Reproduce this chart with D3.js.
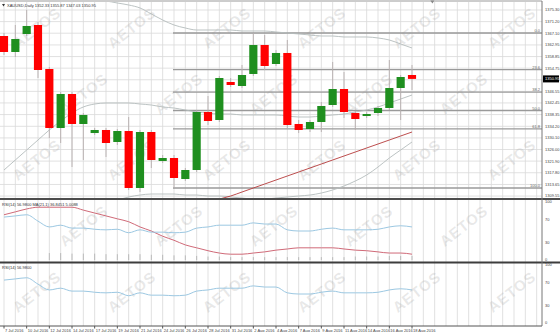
<!DOCTYPE html>
<html>
<head>
<meta charset="utf-8">
<script src="https://cdn.jsdelivr.net/npm/d3@7"></script>
<style>
body { margin: 0; background: #fff; }
svg { display: block; font-family: "Liberation Sans", Arial, sans-serif; }
</style>
</head>
<body>
<div id="chart"></div>
<script>
// XAUUSD daily bars
var dates = ["7 Jul 2016","8 Jul 2016","10 Jul 2016","11 Jul 2016","12 Jul 2016","13 Jul 2016","14 Jul 2016","15 Jul 2016",
  "17 Jul 2016","18 Jul 2016","19 Jul 2016","20 Jul 2016","21 Jul 2016","22 Jul 2016","24 Jul 2016","25 Jul 2016",
  "26 Jul 2016","27 Jul 2016","28 Jul 2016","29 Jul 2016","31 Jul 2016","1 Aug 2016","2 Aug 2016","3 Aug 2016",
  "4 Aug 2016","5 Aug 2016","7 Aug 2016","8 Aug 2016","9 Aug 2016","10 Aug 2016","11 Aug 2016","12 Aug 2016",
  "14 Aug 2016","15 Aug 2016","16 Aug 2016","17 Aug 2016","18 Aug 2016"];
var open  = [1366.11,1360.46,1366.82,1370.00,1354.45,1333.60,1345.62,1335.02,1331.83,1332.90,1328.66,1332.54,1312.40,1332.19,1321.95,1323.00,1315.58,1318.76,1339.26,1336.43,1349.86,1348.44,1352.69,1362.93,1356.22,1360.11,1335.02,1333.25,1335.72,1341.73,1347.38,1338.90,1337.84,1338.90,1340.67,1347.74,1352.33];
var high  = [1367.17,1370.00,1375.30,1371.06,1355.16,1346.32,1346.32,1338.90,1333.60,1333.60,1333.25,1337.49,1332.90,1332.90,1324.06,1324.06,1319.47,1339.96,1344.91,1351.98,1351.27,1355.87,1367.17,1366.47,1361.17,1364.70,1336.43,1336.43,1342.79,1356.93,1353.39,1339.61,1339.26,1341.38,1357.63,1352.33,1355.87];
var low   = [1359.40,1358.69,1366.11,1351.27,1330.07,1328.30,1319.82,1322.30,1331.13,1323.36,1327.60,1311.70,1310.99,1319.47,1321.24,1312.40,1314.88,1318.05,1334.66,1335.72,1348.09,1347.74,1351.98,1354.10,1355.51,1333.25,1331.83,1332.19,1332.19,1341.03,1337.14,1332.90,1337.14,1337.84,1339.96,1336.43,1347.03];
var close = [1360.46,1365.05,1369.65,1354.10,1333.60,1345.62,1335.02,1338.20,1332.90,1328.30,1332.54,1312.40,1332.19,1322.30,1323.00,1315.94,1318.76,1339.26,1336.08,1351.27,1348.80,1352.33,1362.93,1355.51,1360.11,1334.66,1332.90,1335.72,1341.38,1347.38,1339.26,1336.78,1338.55,1340.67,1347.74,1351.62,1350.95];

// bollinger bands + moving average (main window)
var bbUpper = [1383.07,1382.37,1381.66,1380.95,1380.60,1380.25,1379.89,1379.54,1378.83,1378.48,1377.77,1377.07,1376.01,1373.89,1371.77,1370.00,1368.94,1368.23,1368.23,1368.23,1368.23,1367.88,1367.88,1367.88,1367.53,1367.17,1366.82,1366.47,1366.11,1366.11,1365.76,1365.76,1365.76,1365.41,1364.70,1363.29,1361.87];
var bbMiddle = [1318.76,1322.30,1325.83,1329.36,1332.90,1336.08,1338.90,1341.03,1342.08,1342.44,1342.44,1342.44,1342.08,1341.73,1341.03,1340.67,1339.96,1339.26,1338.90,1338.55,1338.55,1338.20,1338.20,1338.20,1338.20,1337.84,1337.49,1337.49,1337.84,1338.20,1338.55,1339.26,1339.96,1341.03,1342.44,1343.85,1345.26];
var bbLower = [1286.96,1290.49,1294.03,1296.85,1299.33,1301.80,1303.92,1305.69,1306.75,1307.45,1308.16,1309.22,1309.92,1310.28,1310.28,1310.28,1309.92,1309.92,1309.57,1309.57,1309.22,1308.86,1308.51,1308.51,1308.86,1309.22,1309.57,1309.92,1310.63,1311.70,1313.11,1314.88,1317.00,1319.82,1323.00,1325.83,1328.66];
var maLine = [1292.0,1293.0,1294.2,1295.3,1296.2,1297.0,1297.9,1298.7,1299.5,1300.2,1300.9,1301.6,1302.3,1303.0,1303.8,1304.6,1305.5,1306.4,1307.4,1308.51,1309.57,1310.99,1312.40,1313.81,1315.23,1316.64,1318.05,1319.47,1320.88,1322.30,1323.71,1325.12,1326.54,1327.95,1329.36,1330.78,1332.19];

// indicator windows
var rsi = [74,76,78,67,57,60,55,55,53,52,53,47,52,48,48,47,48,55,57,60,60,60,64,62,62,52,50,50,53,55,52,52,52,53,57,59,56.98];
var rsiMa = [78,83,88,91,91,91,91,86,81,76,71,66,57,50,41,34,26,21,16,12,10,10,12,14,17,19,21,21,21,21,19,17,16,14,12,12,10];
var hist = [0,0,0,0,12,12,11,11,11,10,10,10,10,9,9,8,8,7,6,6,5,5,5,5,5,5,5,5,5,5,5,6,6,6,7,7,7];

// axis labels
var priceTicks = [1375.30,1371.20,1367.10,1362.95,1358.85,1354.75,1350.65,1346.55,1342.45,1338.35,1334.20,1330.10,1326.00,1321.90,1317.80,1313.65,1309.55];
var rsiTicks = [100,70,30,0];
var fibLevels = [0, 23.6, 38.2, 50, 61.8, 100];
var fibHigh = 1367.17, fibLow = 1312.40, fibFrom = 15;

var W = 560, H = 332, plotR = 542;

var svg = d3.select("#chart").append("svg").attr("width", W).attr("height", H);

var x = d3.scaleLinear().domain([0, dates.length - 1]).range([4, 412]);
var y = d3.scaleLinear().domain([1308.87, 1378.83]).range([198, 0]);
var yR1 = d3.scaleLinear().domain([0, 100]).range([260, 202]);
var yR2 = d3.scaleLinear().domain([0, 100]).range([323, 265]);
var step = x(1) - x(0);

svg.append("clipPath").attr("id", "main").append("rect").attr("x", 0).attr("y", 2).attr("width", plotR).attr("height", 196);

// grid
var grid = svg.append("g").attr("stroke", "#d9d9d9").attr("stroke-width", 0.8);
d3.range(0, 48).forEach(function(i) {
  if (x(i) < plotR) grid.append("line").attr("x1", x(i)).attr("x2", x(i)).attr("y1", 2).attr("y2", 326);
});
priceTicks.forEach(function(p) {
  grid.append("line").attr("x1", 0).attr("x2", plotR).attr("y1", y(p)).attr("y2", y(p));
});

// AETOS watermark
var wm = svg.append("g").attr("font-size", 15).attr("font-weight", "bold").attr("fill", "#999")
  .attr("fill-opacity", 0.22).attr("text-anchor", "middle").attr("letter-spacing", 1);
for (var r = 0; r < 5; r++) {
  for (var c = 0; c < 6; c++) {
    var cx = 40 + c * 95 + (r % 2) * 47, cy = 32 + r * 66;
    if (cx > 530) continue;
    wm.append("text").attr("transform", "translate(" + cx + "," + cy + ") rotate(-38)").text("AETOS");
  }
}

// fibonacci
var fib = svg.append("g");
fibLevels.forEach(function(l) {
  var yy = y(fibHigh - (fibHigh - fibLow) * l / 100);
  fib.append("line").attr("x1", x(fibFrom) - 1).attr("x2", plotR).attr("y1", yy).attr("y2", yy)
    .attr("stroke", "#9a9a9a").attr("stroke-width", 1.3);
  fib.append("text").attr("x", plotR - 2).attr("y", yy - 1).attr("text-anchor", "end")
    .attr("font-size", 4).attr("fill", "#666").text(l.toFixed(1));
});

// bands and MA
var mainG = svg.append("g").attr("clip-path", "url(#main)");
function priceLine(arr, col, w) {
  mainG.append("path").datum(arr)
    .attr("d", d3.line().x(function(d, i) { return x(i); }).y(function(d) { return y(d); }).curve(d3.curveMonotoneX))
    .attr("fill", "none").attr("stroke", col).attr("stroke-width", w);
}
priceLine(bbUpper, "#b4bcbc", 0.9);
priceLine(bbMiddle, "#b4bcbc", 0.9);
priceLine(bbLower, "#b4bcbc", 0.9);
priceLine(maLine, "#b53a3a", 0.9);

// candles
var candles = mainG.selectAll("g.c").data(dates).join("g").attr("class", "c");
candles.append("line")
  .attr("x1", function(d, i) { return x(i); }).attr("x2", function(d, i) { return x(i); })
  .attr("y1", function(d, i) { return y(high[i]); }).attr("y2", function(d, i) { return y(low[i]); })
  .attr("stroke", "#b5aeae").attr("stroke-width", 0.9);
candles.append("rect")
  .attr("x", function(d, i) { return x(i) - step * 0.36; })
  .attr("width", step * 0.72)
  .attr("y", function(d, i) { return y(Math.max(open[i], close[i])); })
  .attr("height", function(d, i) { return Math.max(1.5, Math.abs(y(open[i]) - y(close[i]))); })
  .attr("fill", function(d, i) { return close[i] >= open[i] ? "#1f8f1f" : "#ff0000"; });

// indicator windows
function rsiLine(arr, sc, col) {
  svg.append("path").datum(arr)
    .attr("d", d3.line().x(function(d, i) { return x(i); }).y(function(d) { return sc(d); }).curve(d3.curveMonotoneX))
    .attr("fill", "none").attr("stroke", col).attr("stroke-width", 1);
}
svg.append("g").attr("stroke", "#a8a8a8").attr("stroke-width", 0.7)
  .selectAll("line").data(hist).join("line")
  .attr("x1", function(d, i) { return x(i); }).attr("x2", function(d, i) { return x(i); })
  .attr("y1", yR1(0)).attr("y2", function(d) { return yR1(d); });
rsiLine(rsiMa, yR1, "#d06a78");
rsiLine(rsi, yR1, "#9cc8e2");
rsiLine(rsi, yR2, "#9cc8e2");

// frame
svg.append("line").attr("x1", 0).attr("x2", plotR).attr("y1", 1).attr("y2", 1).attr("stroke", "#9a9a9a");
svg.append("line").attr("x1", 0).attr("x2", W).attr("y1", 199).attr("y2", 199).attr("stroke", "#4d4d4d").attr("stroke-width", 2);
svg.append("line").attr("x1", 0).attr("x2", W).attr("y1", 262.5).attr("y2", 262.5).attr("stroke", "#3d3d3d").attr("stroke-width", 2);
svg.append("line").attr("x1", 0).attr("x2", plotR).attr("y1", 326).attr("y2", 326).attr("stroke", "#555");
svg.append("line").attr("x1", plotR).attr("x2", plotR).attr("y1", 1).attr("y2", 326).attr("stroke", "#777");
svg.append("path").attr("d", "M" + (x(37.8) - 2) + ",0.5h4l-2,3z").attr("fill", "#888");

// right axis labels
var ax = svg.append("g").attr("font-size", 4).attr("fill", "#444");
priceTicks.forEach(function(p) {
  ax.append("text").attr("x", plotR + 3).attr("y", y(p)).attr("dy", "0.35em").text(p.toFixed(2));
});
rsiTicks.forEach(function(v) {
  ax.append("text").attr("x", plotR + 3).attr("y", yR1(v)).attr("dy", "0.35em").text(v);
  ax.append("text").attr("x", plotR + 3).attr("y", yR2(v)).attr("dy", "0.35em").text(v);
});
var last = close[close.length - 1];
svg.append("rect").attr("x", plotR + 1).attr("y", y(last) - 3.5).attr("width", 16).attr("height", 7).attr("fill", "#000");
svg.append("text").attr("x", plotR + 3).attr("y", y(last)).attr("dy", "0.35em").attr("font-size", 4)
  .attr("fill", "#fff").text(last.toFixed(2));

// date labels
var dx = svg.append("g").attr("font-size", 4).attr("fill", "#444");
dates.forEach(function(d, i) {
  if (i % 2) return;
  dx.append("line").attr("x1", x(i)).attr("x2", x(i)).attr("y1", 326).attr("y2", 328.5).attr("stroke", "#555");
  dx.append("text").attr("x", x(i) + 1).attr("y", 331.5).text(d);
});

// window titles
var n = dates.length - 1;
svg.append("path").attr("d", "M2,4h3l-1.5,2.5z").attr("fill", "#333");
svg.append("text").attr("x", 7).attr("y", 7).attr("font-size", 4).attr("fill", "#333")
  .text("XAUUSD,Daily  " + [open[n], high[n], low[n], close[n]].map(function(v) { return v.toFixed(2); }).join(" "));
svg.append("text").attr("x", 2).attr("y", 206).attr("font-size", 4).attr("fill", "#333")
  .text("RSI(14) " + rsi[n].toFixed(4) + "  MA(21,1) 36.8451 5.0088");
svg.append("text").attr("x", 2).attr("y", 268.5).attr("font-size", 4).attr("fill", "#333")
  .text("RSI(14) " + rsi[n].toFixed(4));
</script>
</body>
</html>
